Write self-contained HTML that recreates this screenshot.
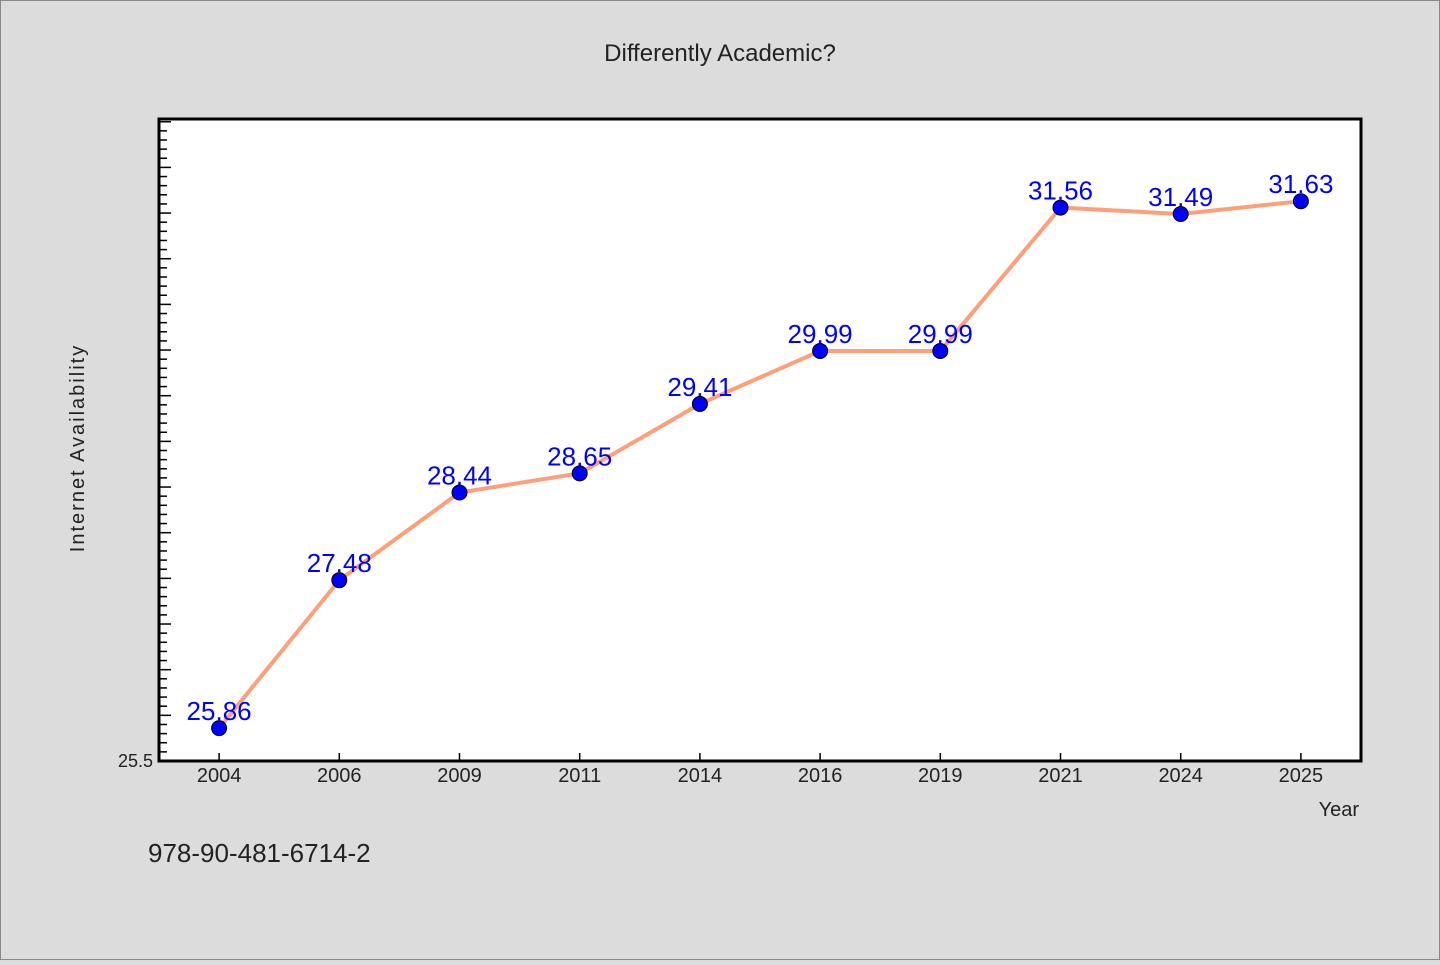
<!DOCTYPE html>
<html><head><meta charset="utf-8"><style>
body{margin:0;background:#dcdcdc;}
svg text{font-family:"WenQuanYi Zen Hei","Liberation Sans",sans-serif;}
</style></head><body>
<svg width="1440" height="960" xmlns="http://www.w3.org/2000/svg">
<rect x="0.5" y="0.5" width="1439" height="959" fill="#dcdcdc" stroke="#888"/>
<text x="720" y="61" font-size="24" text-anchor="middle" fill="#222">Differently Academic?</text>
<rect x="159" y="119" width="1202" height="642" fill="#fff"/>
<g id="ticks"></g>
<g id="series"></g>
<rect x="159" y="119" width="1202" height="642" fill="none" stroke="#000" stroke-width="3"/>
<text x="84" y="448" font-size="20" text-anchor="middle" fill="#222" transform="rotate(-90 84 448)" letter-spacing="2">Internet Availability</text>
<text x="1359" y="816" font-size="20" text-anchor="end" fill="#222">Year</text>
<text x="148" y="862" font-size="26" fill="#222">978-90-481-6714-2</text>
</svg>
<script>
const categories=["2004","2006","2009","2011","2014","2016","2019","2021","2024","2025"];
const values=[25.86,27.48,28.44,28.65,29.41,29.99,29.99,31.56,31.49,31.63];
const yTickLabels=["25.5"];
const yMin=25.5,yMax=32.53;
const L=159,R=1361,T=119,B=761;
const NS="http://www.w3.org/2000/svg";
function y(v){return B-(v-yMin)/(yMax-yMin)*(B-T);}
function x(i){return L+(i+0.5)*(R-L)/categories.length;}
function mk(t,a,p){const e=document.createElementNS(NS,t);for(const k in a)e.setAttribute(k,a[k]);p.appendChild(e);return e;}
const tg=document.getElementById('ticks'),sg=document.getElementById('series');
for(let k=1;;k++){const v=yMin+k*0.1;if(v>yMax)break;const yy=y(v);const major=k%5===0;
const l=mk('line',{x1:L,x2:L+(major?12:8),y1:yy,y2:yy,stroke:'#000','stroke-width':1.5},tg);

}
yTickLabels.forEach(s=>{const t=mk('text',{x:153,y:y(+s)+6,'font-size':18,'text-anchor':'end',fill:'#222'},tg);t.textContent=s;

});
categories.forEach((c,i)=>{const l=mk('line',{x1:x(i),x2:x(i),y1:B,y2:B-8,stroke:'#000','stroke-width':1.5},tg);


const t=mk('text',{x:x(i),y:782,'font-size':20,'text-anchor':'middle',fill:'#222'},tg);t.textContent=c;

});
const pl=mk('polyline',{points:values.map((v,i)=>x(i)+','+y(v)).join(' '),fill:'none',stroke:'#ff9f7a','stroke-width':4},sg);


values.forEach((v,i)=>{const c=mk('circle',{cx:x(i),cy:y(v),r:7.5,fill:'#0000ff',stroke:'#000','stroke-width':1},sg);


const t=mk('text',{x:x(i),y:y(v)-8,'font-size':26,'text-anchor':'middle',fill:'#0000ff'},sg);t.textContent=v.toFixed(2);

});
</script>
</body></html>
